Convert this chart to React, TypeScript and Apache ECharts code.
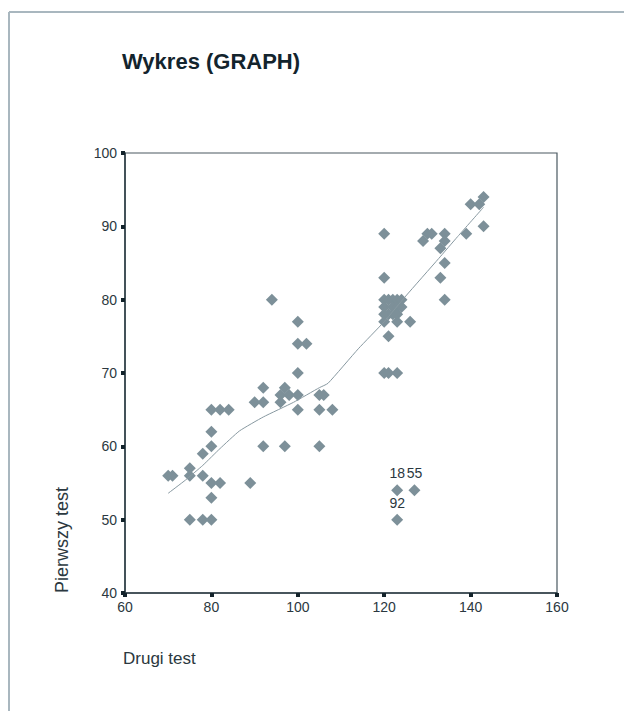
import React, { useEffect, useRef } from "react";
import * as echarts from "echarts";

const xTicks = [60, 80, 100, 120, 140, 160];
const yTicks = [40, 50, 60, 70, 80, 90, 100];

// Drugi test (x) / Pierwszy test (y)
const drugiTest = [
  70, 71, 75, 75, 78, 80, 82, 89, 80, 75, 78, 80, 78, 80, 80, 80, 82, 84,
  90, 92, 92, 92, 94, 96, 96, 97, 98, 97, 100, 100, 102, 100, 100, 100,
  105, 106, 105, 108, 105,
  120, 120, 120, 120, 121, 121, 122, 122, 122, 123, 123, 123, 123, 124, 124, 126, 121, 120, 120,
  120, 121, 123,
  129, 130, 131, 134, 134, 133, 134, 133, 134, 139, 140, 142, 143, 143,
];
const pierwszyTest = [
  56, 56, 57, 56, 56, 55, 55, 55, 53, 50, 50, 50, 59, 60, 62, 65, 65, 65,
  66, 66, 68, 60, 80, 67, 66, 68, 67, 60, 77, 74, 74, 70, 67, 65,
  67, 67, 65, 65, 60,
  80, 79, 78, 77, 80, 78, 80, 79, 78, 80, 79, 78, 77, 79, 80, 77, 75, 83, 89,
  70, 70, 70,
  88, 89, 89, 89, 88, 87, 85, 83, 80, 89, 93, 93, 94, 90,
];

// labelled cases
const caseX = [123, 127, 123];
const caseY = [54, 54, 50];
const caseIds = ["18", "55", "92"];

// fit line
const fitX = [70, 74, 78, 82, 86.5, 92, 99, 105, 107, 114, 120, 125, 132.6, 137, 143];
const fitY = [53.6, 55.4, 57.4, 59.7, 62.1, 64, 66, 68, 68.6, 73.3, 77, 80.5, 85.6, 88.6, 92.6];

const FONT = "'Liberation Sans', Arial, sans-serif";
const MARK = "#7d9099";
const TXT = "#2b3840";

export default function App() {
  const ref = useRef<HTMLDivElement>(null);
  useEffect(() => {
    if (!ref.current) return;
    const chart = echarts.init(ref.current, null, { renderer: "svg" });
    const pts = drugiTest.map((x, i) => [x, pierwszyTest[i]]);
    const cases = caseX.map((x, i) => ({ value: [x, caseY[i]], name: caseIds[i] }));
    const fit = fitX.map((x, i) => [x, fitY[i]]);
    chart.setOption({
      animation: false,
      backgroundColor: "#ffffff",
      textStyle: { fontFamily: FONT },
      grid: {
        left: 125,
        top: 153,
        right: 67,
        bottom: 118,
        show: true,
        borderColor: "#4a5961",
        borderWidth: 1.2,
      },
      xAxis: {
        type: "value",
        min: 60,
        max: 160,
        interval: 20,
        splitLine: { show: false },
        axisLine: { show: true, lineStyle: { color: "#2a3a42", width: 1.5 } },
        axisTick: { show: true, length: 4, lineStyle: { color: "#13232b", width: 4 } },
        axisLabel: {
          margin: 7,
          fontSize: 14,
          color: TXT,
          fontFamily: FONT,
          formatter: (v: number) => (xTicks.includes(v) ? String(v) : ""),
        },
      },
      yAxis: {
        type: "value",
        min: 40,
        max: 100,
        interval: 10,
        splitLine: { show: false },
        axisLine: { show: true, lineStyle: { color: "#2a3a42", width: 1.5 } },
        axisTick: { show: true, length: 4, lineStyle: { color: "#13232b", width: 4 } },
        axisLabel: {
          margin: 8,
          fontSize: 14,
          color: TXT,
          fontFamily: FONT,
          formatter: (v: number) => (yTicks.includes(v) ? String(v) : ""),
        },
      },
      graphic: [
        { type: "line", shape: { x1: 9, y1: 12, x2: 624, y2: 12 }, style: { stroke: "#a9b7bf", lineWidth: 2 } },
        { type: "line", shape: { x1: 9, y1: 12, x2: 9, y2: 711 }, style: { stroke: "#a9b7bf", lineWidth: 2 } },
        {
          type: "text",
          left: 122,
          top: 50,
          style: { text: "Wykres (GRAPH)", font: `bold 22px ${FONT}`, fill: "#13242d" },
        },
        {
          type: "text",
          x: 123,
          y: 650,
          style: { text: "Drugi test", font: `17px ${FONT}`, fill: TXT },
        },
        {
          type: "text",
          x: 53,
          y: 593,
          rotation: Math.PI / 2,
          style: { text: "Pierwszy test", font: `18px ${FONT}`, fill: TXT, textAlign: "left", textVerticalAlign: "top" },
        },
      ],
      series: [
        {
          type: "line",
          data: fit,
          smooth: 0.15,
          symbol: "none",
          lineStyle: { color: "#8899a1", width: 1 },
          z: 3,
        },
        {
          type: "scatter",
          data: pts,
          symbol: "diamond",
          symbolSize: 12,
          itemStyle: { color: MARK, opacity: 1 },
          z: 2,
        },
        {
          type: "scatter",
          data: cases,
          symbol: "diamond",
          symbolSize: 12,
          itemStyle: { color: MARK, opacity: 1 },
          label: {
            show: true,
            position: "top",
            distance: 4,
            formatter: (p: any) => p.name,
            fontSize: 14,
            color: TXT,
            fontFamily: FONT,
          },
          z: 2,
        },
      ],
    });
    return () => chart.dispose();
  }, []);
  return (
    <div
      ref={ref}
      style={{ position: "fixed", left: 0, top: 0, width: 624, height: 711 }}
    />
  );
}
